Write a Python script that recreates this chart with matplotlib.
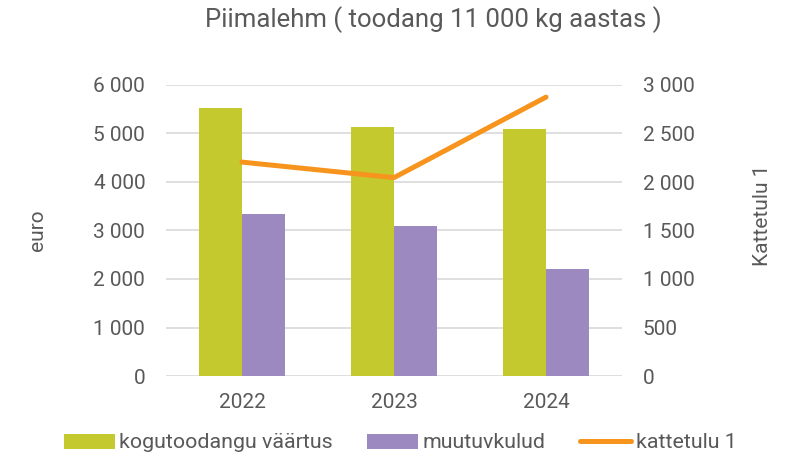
import numpy as np
import matplotlib
matplotlib.use("Agg")
import matplotlib.pyplot as plt
from matplotlib.ticker import FuncFormatter

plt.rcParams['font.family'] = ['Roboto', 'DejaVu Sans']

# andmed
years = ['2022', '2023', '2024']
kogutoodang = [5530, 5125, 5090]   # kogutoodangu väärtus, euro
muutuvkulud = [3340, 3085, 2205]   # muutuvkulud, euro
kattetulu = [2205, 2045, 2875]     # kattetulu 1, parem telg

green = '#C4C92E'
purple = '#9B89C0'
orange = '#F7941D'
grid = '#D9D9D9'
txt = '#595959'

def fmt(v, pos):
    return '{:,.0f}'.format(v).replace(',', ' ')

fig = plt.figure(figsize=(8, 4.74), dpi=100)
ax = fig.add_axes([166/800, 1-376/474, 456/800, 291/474])
ax2 = ax.twinx()

x = np.arange(len(years))
w = 0.285
ax.bar(x - w/2, kogutoodang, w, color=green, label='kogutoodangu väärtus', zorder=2)
ax.bar(x + w/2, muutuvkulud, w, color=purple, label='muutuvkulud', zorder=2)
ax2.plot(x, kattetulu, color=orange, lw=3.6, solid_capstyle='round',
         label='kattetulu 1', zorder=3)

ax.set_xlim(-0.5, 2.5)
ax.set_ylim(0, 6000)
ax2.set_ylim(0, 3000)
ax.set_yticks(np.arange(0, 6001, 1000))
ax2.set_yticks(np.arange(0, 3001, 500))
ax.yaxis.set_major_formatter(FuncFormatter(fmt))
ax2.yaxis.set_major_formatter(FuncFormatter(fmt))
ax.set_xticks(x)
ax.set_xticklabels(years)

ax.grid(axis='y', color=grid, lw=1.2, zorder=0)
ax.set_axisbelow(True)
for a in (ax, ax2):
    for s in a.spines.values():
        s.set_visible(False)
    a.tick_params(length=0, labelsize=15, labelcolor=txt)
ax.tick_params(axis='y', pad=15)
ax2.tick_params(axis='y', pad=15)
ax.tick_params(axis='x', pad=12)

fig.text(38/800, 1-230/474, 'euro', rotation=90, ha='center', va='center',
         fontsize=15, color=txt)
fig.text(762/800, 1-215/474, 'Kattetulu 1', rotation=90, ha='center', va='center',
         fontsize=15, color=txt)
fig.text(433/800, 1-20/474, 'Piimalehm ( toodang 11 000 kg aastas )',
         ha='center', va='center', fontsize=18.5, color=txt)

h1, l1 = ax.get_legend_handles_labels()
h2, l2 = ax2.get_legend_handles_labels()
leg = fig.legend(h1 + h2, l1 + l2, loc='center', ncol=3,
                 bbox_to_anchor=(400/800, 1-443/474), frameon=False,
                 fontsize=15.4, handlelength=2.4, handleheight=0.7,
                 handletextpad=0.2, columnspacing=1.6)
for t in leg.get_texts():
    t.set_color(txt)

fig.savefig('out.png', dpi=100)
